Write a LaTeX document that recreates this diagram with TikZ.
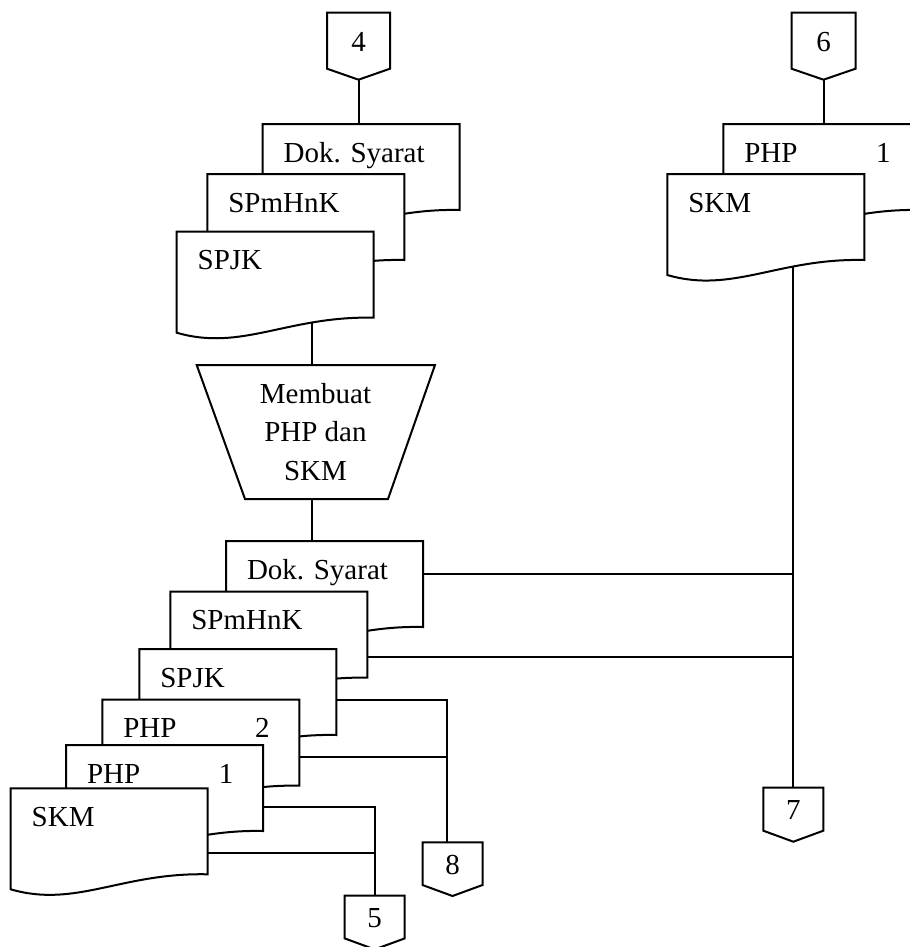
\documentclass[tikz,border=0pt]{standalone}
\usepackage{fontspec}
\setmainfont{Liberation Serif}
\usetikzlibrary{calc}
\pgfdeclarelayer{background}
\pgfsetlayers{background,main}

% document symbol body: top-left corner at the pic origin, wavy bottom edge
\newcommand\docbody[1]{%
  \draw[fill=white] (0,0) -- (197,0) -- (197,86)
    .. controls (111,84) and (65,120) .. (0,101) -- cycle;
  \coordinate (-nw) at (0,0);
  \coordinate (-ne) at (197,0);
  \node[lbl, anchor=base west] (-name) at (20,38) {#1};
}

\tikzset{
  lbl/.style={font=\fontsize{11.6}{15.4}\selectfont, inner sep=0pt},
  flow/.style={line width=0.8pt},
  pics/doc/.style={code={\docbody{#1}}},
  pics/docnum/.style 2 args={code={%
    \docbody{#1}
    \node[lbl, anchor=base] (-num) at (160,38) {#2};
  }},
  % off-page connector: half width, height of the square part, label
  pics/offpage/.style n args={3}{code={%
    \draw[fill=white] (-#1,0) -- (#1,0) -- (#1,#2) -- (0,#2+11) -- (-#1,#2) -- cycle;
    \coordinate (-top) at (0,0);
    \coordinate (-tip) at (0,#2+11);
    \node[lbl] (-num) at (0,#2/2+1) {#3};
  }},
}

\begin{document}
\begin{tikzpicture}[x=0.4pt, y=-0.4pt, line width=0.8pt]
\useasboundingbox (0,0) rectangle (910,947);
\clip (0,0) rectangle (910,947);

% ---- left column, input documents
\pic (c4) at (358.5,12.7) {offpage={31.5}{56}{4}};
\pic (dsA) at (262.7,124) {doc={Dok. Syarat}};
\pic (spmA) at (207.3,174) {doc={SPmHnK}};
\pic (spjA) at (176.7,231.7) {doc={SPJK}};

% ---- manual process
\draw[fill=white] (196.7,365) -- (435,365) -- (388,499) -- (245,499) -- cycle;
\coordinate (procTop) at (312.3,365);
\coordinate (procBot) at (312.3,499);
\node[lbl, align=center] (proc) at (315.5,432) {Membuat\\PHP dan\\SKM};

% ---- output documents
\pic (dsB) at (226,541) {doc={Dok. Syarat}};
\pic (spmB) at (170.3,591.7) {doc={SPmHnK}};
\pic (spjB) at (139.3,649) {doc={SPJK}};
\pic (php2) at (102.3,699.7) {docnum={PHP}{2}};
\pic (php1) at (66,745) {docnum={PHP}{1}};
\pic (skmB) at (10.7,788.3) {doc={SKM}};

\pic (c8) at (452.5,842.3) {offpage={30}{42.7}{8}};
\pic (c5) at (374.7,895.7) {offpage={30}{42.7}{5}};

% ---- right column
\pic (c6) at (823.5,12.7) {offpage={32}{56}{6}};
\pic (phpR) at (723.3,124) {docnum={PHP}{1}};
\pic (skmR) at (667.3,174) {doc={SKM}};
\pic (c7) at (793.3,787.7) {offpage={30}{43}{7}};

% tap points on the right edges of the documents
\coordinate (dsB-e)  at ($(dsB-ne)+(0,33)$);
\coordinate (spmB-e) at ($(spmB-ne)+(0,65.6)$);
\coordinate (spjB-e) at ($(spjB-ne)+(0,50.7)$);
\coordinate (php2-e) at ($(php2-ne)+(0,57)$);
\coordinate (php1-e) at ($(php1-ne)+(0,62.3)$);
\coordinate (skmB-e) at ($(skmB-ne)+(0,64.4)$);
\coordinate (c8-in)  at ($(c8-top)+(-5.2,0)$);

% ---- flow lines, behind the symbols
\begin{pgfonlayer}{background}
\begin{scope}[flow]
  \draw (c4-tip) -- (c4-tip |- dsA-nw);
  \draw (procTop |- spjA-nw) -- (procTop);
  \draw (procBot) -- (procBot |- dsB-nw);

  \draw (dsB-e) -- (dsB-e -| c7-top);
  \draw (spmB-e) -- (spmB-e -| c7-top);
  \draw (spjB-e) -| (c8-in);
  \draw (php2-e) -- (php2-e -| c8-in);
  \draw (php1-e) -| (c5-top);
  \draw (skmB-e) -- (skmB-e -| c5-top);

  \draw (c6-tip) -- (c6-tip |- phpR-nw);
  \draw (skmR-nw -| c7-top) -- (c7-top);
\end{scope}
\end{pgfonlayer}
\end{tikzpicture}
\end{document}
